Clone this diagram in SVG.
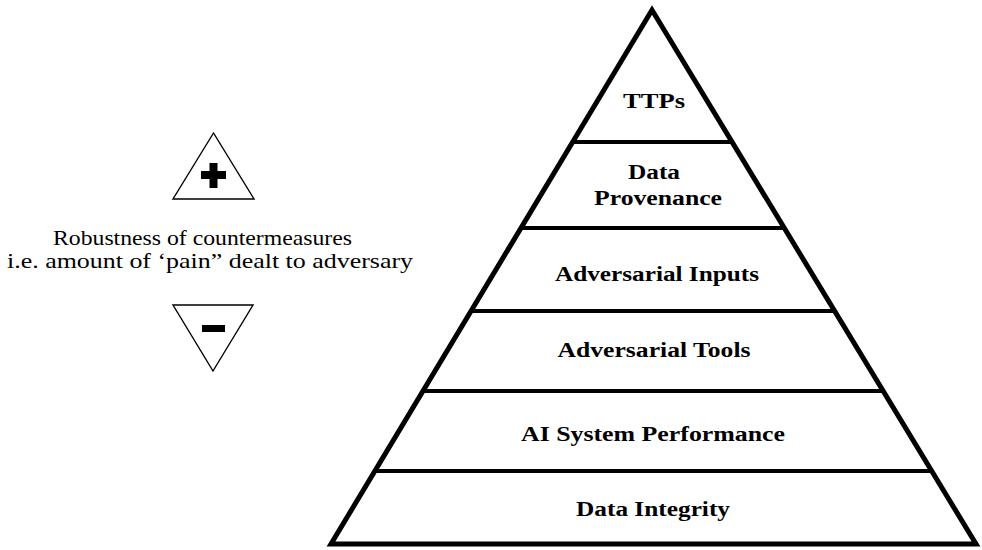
<svg xmlns="http://www.w3.org/2000/svg" width="982" height="550" viewBox="0 0 982 550">
  <style>
    .outer { fill: #ffffff; stroke: #000000; stroke-width: 5; stroke-linejoin: miter; }
    .band { stroke: #000000; stroke-width: 4; fill: none; }
    .lbl { font-family: "Liberation Serif", "DejaVu Serif", serif; font-weight: bold; font-size: 20px; fill: #000000; text-anchor: middle; }
    .side { font-family: "Liberation Serif", "DejaVu Serif", serif; font-size: 21px; fill: #000000; text-anchor: middle; }
    .tri { fill: #ffffff; stroke: #000000; stroke-width: 1.4; stroke-linejoin: miter; }
  </style>
  <rect width="982" height="550" fill="#ffffff"/>

  <g id="pyramid">
    <polygon class="outer" points="652,10 331,544 976,544"/>
    <line class="band" x1="572" y1="142" x2="733" y2="142"/>
    <line class="band" x1="520" y1="228" x2="785" y2="228"/>
    <line class="band" x1="470" y1="311" x2="835" y2="311"/>
    <line class="band" x1="422" y1="391" x2="884" y2="391"/>
    <line class="band" x1="374" y1="471" x2="932" y2="471"/>
  </g>

  <g id="level-ttps">
    <text class="lbl" x="654" y="108" textLength="62" lengthAdjust="spacingAndGlyphs">TTPs</text>
  </g>
  <g id="level-data-provenance">
    <text class="lbl" x="654" y="179" textLength="52" lengthAdjust="spacingAndGlyphs">Data</text>
    <text class="lbl" x="658" y="205" textLength="128" lengthAdjust="spacingAndGlyphs">Provenance</text>
  </g>
  <g id="level-adversarial-inputs">
    <text class="lbl" x="657" y="281" textLength="204" lengthAdjust="spacingAndGlyphs">Adversarial Inputs</text>
  </g>
  <g id="level-adversarial-tools">
    <text class="lbl" x="654" y="357" textLength="193" lengthAdjust="spacingAndGlyphs">Adversarial Tools</text>
  </g>
  <g id="level-ai-system-performance">
    <text class="lbl" x="653" y="441" textLength="264" lengthAdjust="spacingAndGlyphs">AI System Performance</text>
  </g>
  <g id="level-data-integrity">
    <text class="lbl" x="653" y="516" textLength="154" lengthAdjust="spacingAndGlyphs">Data Integrity</text>
  </g>

  <g id="plus-indicator">
    <polygon class="tri" points="213.5,133 173,199 254,199"/>
    <rect x="201" y="171" width="25" height="8" fill="#000000"/>
    <rect x="209.5" y="163" width="8" height="25" fill="#000000"/>
  </g>

  <g id="robustness-label">
    <text class="side" x="202.5" y="245" textLength="299" lengthAdjust="spacingAndGlyphs">Robustness of countermeasures</text>
    <text class="side" x="210" y="268" textLength="406" lengthAdjust="spacingAndGlyphs">i.e. amount of ‘pain” dealt to adversary</text>
  </g>

  <g id="minus-indicator">
    <polygon class="tri" points="173,305 253,305 213,371"/>
    <rect x="202" y="325" width="23" height="7" fill="#000000"/>
  </g>
</svg>
